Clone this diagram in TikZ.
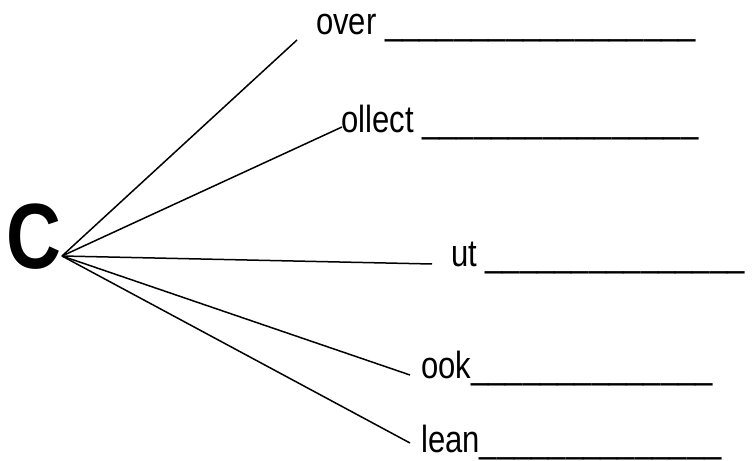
\documentclass[tikz,border=0pt]{standalone}
\usepackage{fontspec}
\setmainfont{Liberation Sans}[FakeStretch=0.82]
\begin{document}
\begin{tikzpicture}[x=1bp,y=-1bp,
  word/.style={anchor=base west,inner sep=0pt,font=\fontsize{38}{42}\selectfont},
  big/.style={anchor=base west,inner sep=0pt,font=\fontsize{93}{100}\selectfont\bfseries},
  spoke/.style={line width=1.5bp,black}]
\useasboundingbox (0,0) rectangle (754,461);
\node[big] (c) at (6,269) {C};
\coordinate (o) at (62,256);
\node[word] (w1) at (316,35) {over \_\_\_\_\_\_\_\_\_\_\_\_\_\_\_\_\_\_};
\node[word] (w2) at (341,133) {ollect \_\_\_\_\_\_\_\_\_\_\_\_\_\_\_\_};
\node[word] (w3) at (451,267) {ut \_\_\_\_\_\_\_\_\_\_\_\_\_\_\_};
\node[word] (w4) at (421,378) {ook\_\_\_\_\_\_\_\_\_\_\_\_\_\_};
\node[word] (w5) at (421,452) {lean\_\_\_\_\_\_\_\_\_\_\_\_\_\_};
\coordinate (e1) at (297,40);
\coordinate (e2) at (342,127);
\coordinate (e3) at (432,264);
\coordinate (e4) at (410,375);
\coordinate (e5) at (410,443);
\draw[spoke] (o) -- (e1);
\draw[spoke] (o) -- (e2);
\draw[spoke] (o) -- (e3);
\draw[spoke] (o) -- (e4);
\draw[spoke] (o) -- (e5);
\end{tikzpicture}
\end{document}
